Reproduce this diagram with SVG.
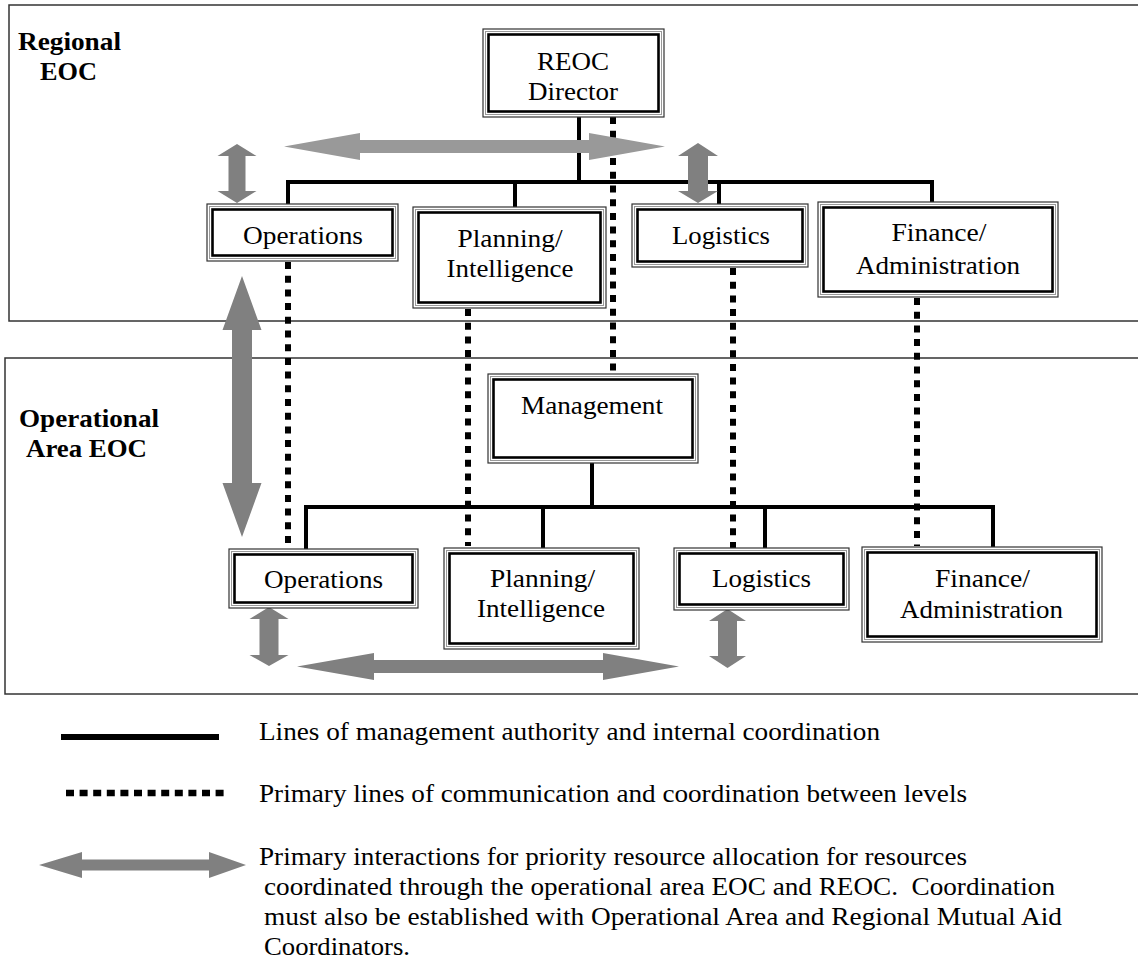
<svg xmlns="http://www.w3.org/2000/svg" width="1138" height="963" viewBox="0 0 1138 963">
<defs>
<style>
.panel{fill:none;stroke:#333;stroke-width:1.5}
.bo{fill:#fff;stroke:#333;stroke-width:1.2}
.bm{fill:none;stroke:#999;stroke-width:1}
.bi{fill:none;stroke:#000;stroke-width:2.6}
.t{font-family:'Liberation Serif','Times New Roman',serif;font-size:25px;fill:#000;text-anchor:middle}
.lbl{font-family:'Liberation Serif','Times New Roman',serif;font-size:25px;font-weight:bold;fill:#000}
.lg{font-family:'Liberation Serif','Times New Roman',serif;font-size:25px;fill:#000}
.solid{stroke:#000;stroke-width:4;fill:none}
.dot{stroke:#000;stroke-width:6;fill:none;stroke-dasharray:7 6.7}
.arr{fill:#808080}
.arrl{fill:#999}
</style>
</defs>
<rect width="1138" height="963" fill="#fff"/>
<g id="panels">
<rect class="panel" x="9" y="5" width="1140" height="316"/>
<rect class="panel" x="5" y="358" width="1145" height="336"/>
<text class="lbl" x="18" y="50" textLength="103" lengthAdjust="spacingAndGlyphs">Regional</text>
<text class="lbl" x="40" y="80" textLength="57" lengthAdjust="spacingAndGlyphs">EOC</text>
<text class="lbl" x="19" y="427" textLength="140" lengthAdjust="spacingAndGlyphs">Operational</text>
<text class="lbl" x="26" y="457" textLength="121" lengthAdjust="spacingAndGlyphs">Area EOC</text>
</g>
<g id="connectors">
<polyline class="solid" points="579,113 579,182"/>
<polyline class="solid" points="288,209 288,182 932,182 932,207"/>
<polyline class="solid" points="515,182 515,212"/>
<polyline class="solid" points="719,182 719,209"/>
<polyline class="solid" points="592,463 592,507"/>
<polyline class="solid" points="306,554 306,507 993,507 993,552"/>
<polyline class="solid" points="543,507 543,553"/>
<polyline class="solid" points="765,507 765,553"/>
<line class="dot" x1="613" y1="117" x2="613" y2="375"/>
<line class="dot" x1="288" y1="262" x2="288" y2="550"/>
<line class="dot" x1="468" y1="309" x2="468" y2="546"/>
<line class="dot" x1="733" y1="268" x2="733" y2="550"/>
<line class="dot" x1="917" y1="298" x2="917" y2="546"/>
<polygon class="arrl" points="284,146.5 360,133 360,140 589,140 589,133 665,146.5 589,160 589,153 360,153 360,160"/>
<polygon class="arr" points="237,144 256.5,156 245.5,156 245.5,191 256.5,191 237,203 217.5,191 228.5,191 228.5,156 217.5,156"/>
<polygon class="arr" points="698,143 718,156 708,156 708,191 718,191 698,203 678,191 688,191 688,156 678,156"/>
<polygon class="arr" points="242,276 261.5,330 252,330 252,483 261.5,483 242,537 222.5,483 232,483 232,330 222.5,330"/>
<polygon class="arr" points="269,607 288.5,619 278.5,619 278.5,655 288.5,655 269,666 249.5,655 259.5,655 259.5,619 249.5,619"/>
<polygon class="arr" points="727.5,609 746,621 737,621 737,656 746,656 727.5,668 709,656 718,656 718,621 709,621"/>
<polygon class="arr" points="297,666.5 374,653 374,660 603,660 603,653 679,666.5 603,680 603,673 374,673 374,680"/>
</g>
<g id="n-reoc-director">
<rect class="bo" x="483" y="29" width="181" height="88"/><rect class="bm" x="485.5" y="31.5" width="176" height="83"/><rect class="bi" x="488.5" y="34.5" width="170" height="77"/>
<text class="t" x="573" y="70" textLength="72" lengthAdjust="spacingAndGlyphs">REOC</text>
<text class="t" x="573" y="100" textLength="90" lengthAdjust="spacingAndGlyphs">Director</text>
</g>
<g id="n-top-operations">
<rect class="bo" x="207" y="204" width="191" height="57"/><rect class="bm" x="209.5" y="206.5" width="186" height="52"/><rect class="bi" x="212.5" y="209.5" width="180" height="46"/>
<text class="t" x="303" y="244" textLength="120" lengthAdjust="spacingAndGlyphs">Operations</text>
</g>
<g id="n-top-planning">
<rect class="bo" x="413" y="207" width="193" height="101"/><rect class="bm" x="415.5" y="209.5" width="188" height="96"/><rect class="bi" x="418.5" y="212.5" width="182" height="90"/>
<text class="t" x="510" y="247" textLength="105" lengthAdjust="spacingAndGlyphs">Planning/</text>
<text class="t" x="510" y="277" textLength="127" lengthAdjust="spacingAndGlyphs">Intelligence</text>
</g>
<g id="n-top-logistics">
<rect class="bo" x="632" y="204" width="176" height="63"/><rect class="bm" x="634.5" y="206.5" width="171" height="58"/><rect class="bi" x="637.5" y="209.5" width="165" height="52"/>
<text class="t" x="721" y="244" textLength="98" lengthAdjust="spacingAndGlyphs">Logistics</text>
</g>
<g id="n-top-finance">
<rect class="bo" x="818" y="202" width="240" height="95"/><rect class="bm" x="820.5" y="204.5" width="235" height="90"/><rect class="bi" x="823.5" y="207.5" width="229" height="84"/>
<text class="t" x="939" y="241" textLength="95" lengthAdjust="spacingAndGlyphs">Finance/</text>
<text class="t" x="938" y="274" textLength="164" lengthAdjust="spacingAndGlyphs">Administration</text>
</g>
<g id="n-management">
<rect class="bo" x="488" y="374" width="210" height="89"/><rect class="bm" x="490.5" y="376.5" width="205" height="84"/><rect class="bi" x="493.5" y="379.5" width="199" height="78"/>
<text class="t" x="592" y="414" textLength="142" lengthAdjust="spacingAndGlyphs">Management</text>
</g>
<g id="n-bot-operations">
<rect class="bo" x="229" y="549" width="189" height="59"/><rect class="bm" x="231.5" y="551.5" width="184" height="54"/><rect class="bi" x="234.5" y="554.5" width="178" height="48"/>
<text class="t" x="323.5" y="588" textLength="119" lengthAdjust="spacingAndGlyphs">Operations</text>
</g>
<g id="n-bot-planning">
<rect class="bo" x="444" y="548" width="195" height="101"/><rect class="bm" x="446.5" y="550.5" width="190" height="96"/><rect class="bi" x="449.5" y="553.5" width="184" height="90"/>
<text class="t" x="542.5" y="587" textLength="105" lengthAdjust="spacingAndGlyphs">Planning/</text>
<text class="t" x="541" y="617" textLength="128" lengthAdjust="spacingAndGlyphs">Intelligence</text>
</g>
<g id="n-bot-logistics">
<rect class="bo" x="674" y="548" width="175" height="62"/><rect class="bm" x="676.5" y="550.5" width="170" height="57"/><rect class="bi" x="679.5" y="553.5" width="164" height="51"/>
<text class="t" x="761.5" y="587" textLength="99" lengthAdjust="spacingAndGlyphs">Logistics</text>
</g>
<g id="n-bot-finance">
<rect class="bo" x="862" y="547" width="240" height="95"/><rect class="bm" x="864.5" y="549.5" width="235" height="90"/><rect class="bi" x="867.5" y="552.5" width="229" height="84"/>
<text class="t" x="982.5" y="587" textLength="95" lengthAdjust="spacingAndGlyphs">Finance/</text>
<text class="t" x="981.5" y="618" textLength="163" lengthAdjust="spacingAndGlyphs">Administration</text>
</g>
<g id="legend">
<line x1="61" y1="737" x2="219" y2="737" stroke="#000" stroke-width="6"/>
<line x1="66" y1="793" x2="224" y2="793" stroke="#000" stroke-width="6.5" stroke-dasharray="8 5.6"/>
<polygon class="arr" points="39,865 82,852 82,859.5 209,859.5 209,852 246,865 209,878 209,870.5 82,870.5 82,878"/>
<text class="lg" x="259" y="740" textLength="621" lengthAdjust="spacingAndGlyphs">Lines of management authority and internal coordination</text>
<text class="lg" x="259" y="802" textLength="708" lengthAdjust="spacingAndGlyphs">Primary lines of communication and coordination between levels</text>
<text class="lg" x="259" y="865" textLength="708" lengthAdjust="spacingAndGlyphs">Primary interactions for priority resource allocation for resources</text>
<text class="lg" x="264" y="895" textLength="791" lengthAdjust="spacingAndGlyphs" xml:space="preserve">coordinated through the operational area EOC and REOC.  Coordination</text>
<text class="lg" x="264" y="925" textLength="798" lengthAdjust="spacingAndGlyphs">must also be established with Operational Area and Regional Mutual Aid</text>
<text class="lg" x="264" y="955" textLength="146" lengthAdjust="spacingAndGlyphs">Coordinators.</text>
</g>
</svg>
